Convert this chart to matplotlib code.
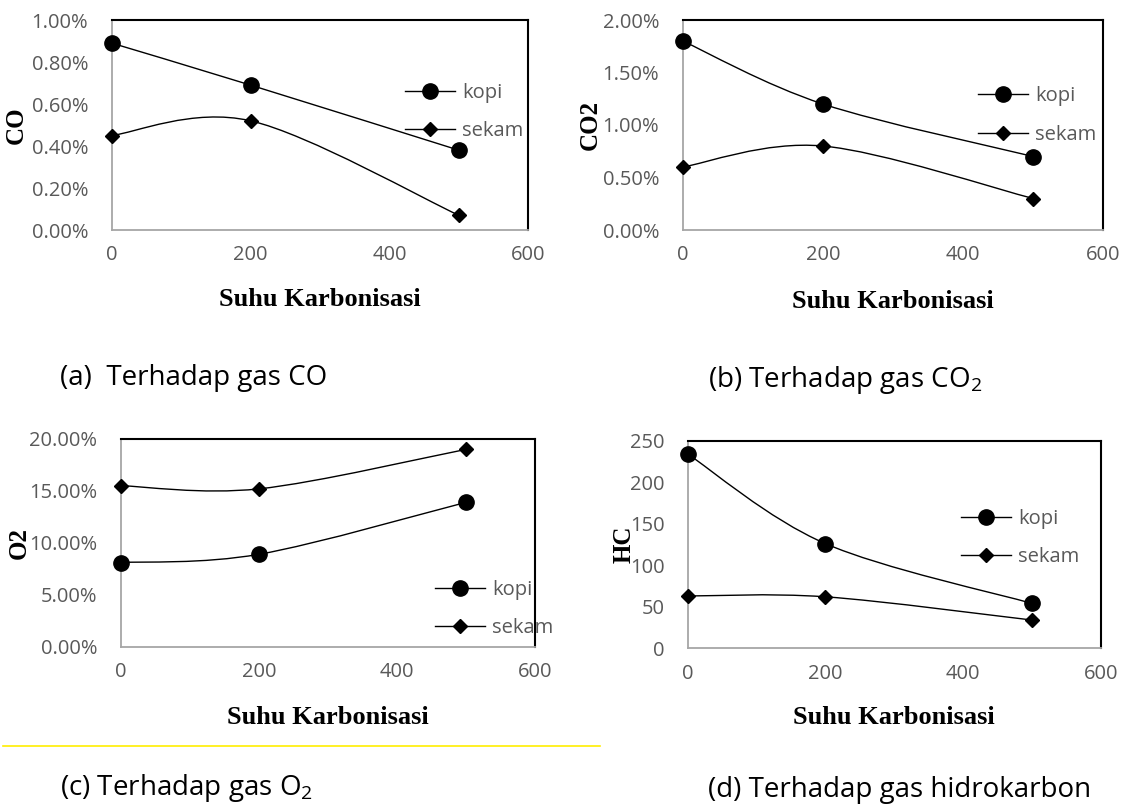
import numpy as np
import matplotlib
matplotlib.use("Agg")
import matplotlib.pyplot as plt
from matplotlib.path import Path
from matplotlib.patches import PathPatch
from matplotlib.lines import Line2D
from matplotlib.ticker import FuncFormatter

# data
suhu = [0, 200, 500]
co_kopi = [0.89, 0.69, 0.38]
co_sekam = [0.45, 0.52, 0.07]
co2_kopi = [1.80, 1.20, 0.70]
co2_sekam = [0.60, 0.80, 0.30]
o2_kopi = [8.1, 8.9, 13.9]
o2_sekam = [15.5, 15.2, 19.0]
hc_kopi = [234, 126, 54]
hc_sekam = [63, 62, 34]
series_names = ["kopi", "sekam"]

W, H = 1130, 807
GRAY = "#595959"
SANS = "Open Sans"
SERIF = "Liberation Serif"

fig = plt.figure(figsize=(W / 100, H / 100), dpi=100)


def smooth_path(x, y):
    # Excel-like smoothed line: cubic bezier through the points
    pts = np.column_stack([x, y]).astype(float)
    n = len(pts)
    verts = [pts[0]]
    codes = [Path.MOVETO]
    for i in range(n - 1):
        p0 = pts[max(i - 1, 0)]
        p1 = pts[i]
        p2 = pts[i + 1]
        p3 = pts[min(i + 2, n - 1)]
        verts += [p1 + (p2 - p0) / 6, p2 - (p3 - p1) / 6, p2]
        codes += [Path.CURVE4] * 3
    return Path(verts, codes)


def panel(box, kopi, sekam, ylab, ymax, ystep, fmt, ylab_x, xlab_y, leg_xy, ypad):
    l, t, r, b = box
    ax = fig.add_axes([l / W, 1 - b / H, (r - l) / W, (b - t) / H])
    for vals, m, ms in ((kopi, "o", 11), (sekam, "D", 7.2)):
        ax.add_patch(PathPatch(smooth_path(suhu, vals), fill=False, ec="k", lw=1.0, zorder=2))
        ax.plot(suhu, vals, ls="none", marker=m, ms=ms, color="k", clip_on=False, zorder=3)
    ax.set_xlim(0, 600)
    ax.set_xticks([0, 200, 400, 600])
    ax.set_ylim(0, ymax)
    ax.set_yticks(np.arange(0, ymax + ystep / 2, ystep))
    ax.yaxis.set_major_formatter(FuncFormatter(fmt))
    ax.tick_params(axis="both", length=0, labelsize=14.5, labelcolor=GRAY)
    ax.tick_params(axis="x", pad=11)
    ax.tick_params(axis="y", pad=ypad)
    for lab in ax.get_xticklabels() + ax.get_yticklabels():
        lab.set_family(SANS)
    for s in ("left", "bottom"):
        ax.spines[s].set_color("#a6a6a6")
        ax.spines[s].set_linewidth(1.3)
    for s in ("top", "right"):
        ax.spines[s].set_color("k")
        ax.spines[s].set_linewidth(1.5)

    ax.set_xlabel("Suhu Karbonisasi", family=SERIF, fontweight="bold", fontsize=19, va="center")
    ax.xaxis.set_label_coords(0.5, (b - xlab_y) / (b - t))
    ax.set_ylabel(ylab, family=SERIF, fontweight="bold", fontsize=18, va="center")
    ax.yaxis.set_label_coords((ylab_x - l) / (r - l), 0.5)

    handles = [Line2D([], [], color="k", lw=1.0, marker="o", ms=11),
               Line2D([], [], color="k", lw=1.0, marker="D", ms=7.2)]
    fig.legend(handles, series_names, loc="center left",
               bbox_to_anchor=(leg_xy[0] / W, 1 - leg_xy[1] / H),
               frameon=False, borderpad=0, borderaxespad=0,
               handlelength=2.5, handletextpad=0.35, labelspacing=0.9,
               prop={"family": SANS, "size": 14.5}, labelcolor=GRAY)
    return ax


pct = lambda v, pos: f"{v:.2f}%"
num = lambda v, pos: f"{v:.0f}"

panel((111.7, 20, 528.3, 230), co_kopi, co_sekam, "CO", 1.0, 0.2, pct,
      16, 300, (405, 111.7), 17)
panel((682.7, 20, 1103.3, 230), co2_kopi, co2_sekam, "CO2", 2.0, 0.5, pct,
      590, 302, (978, 115.5), 17)
panel((121, 439, 535, 646.7), o2_kopi, o2_sekam, "O2", 20, 5, pct,
      19, 717, (435, 609), 17)
panel((687.7, 440.7, 1101, 648.3), hc_kopi, hc_sekam, "HC", 250, 50, num,
      624, 718, (960.7, 538.4), 16.5)

# captions under each chart
captions = [
    (60, 378, "(a)  Terhadap gas CO"),
    (708, 380, r"(b) Terhadap gas CO$_\mathregular{2}$"),
    (60, 788, r"(c) Terhadap gas O$_\mathregular{2}$"),
    (708, 790, "(d) Terhadap gas hidrokarbon"),
]
for x, y, txt in captions:
    fig.text(x / W, 1 - y / H, txt, ha="left", va="center", family=SANS, fontsize=20, color="k")

# yellow rule under panel (c)
fig.add_artist(Line2D([3 / W, 600 / W], [1 - 746 / H, 1 - 746 / H],
                      color="#ffee00", lw=1.2, transform=fig.transFigure))

fig.savefig("out.png", dpi=100)
